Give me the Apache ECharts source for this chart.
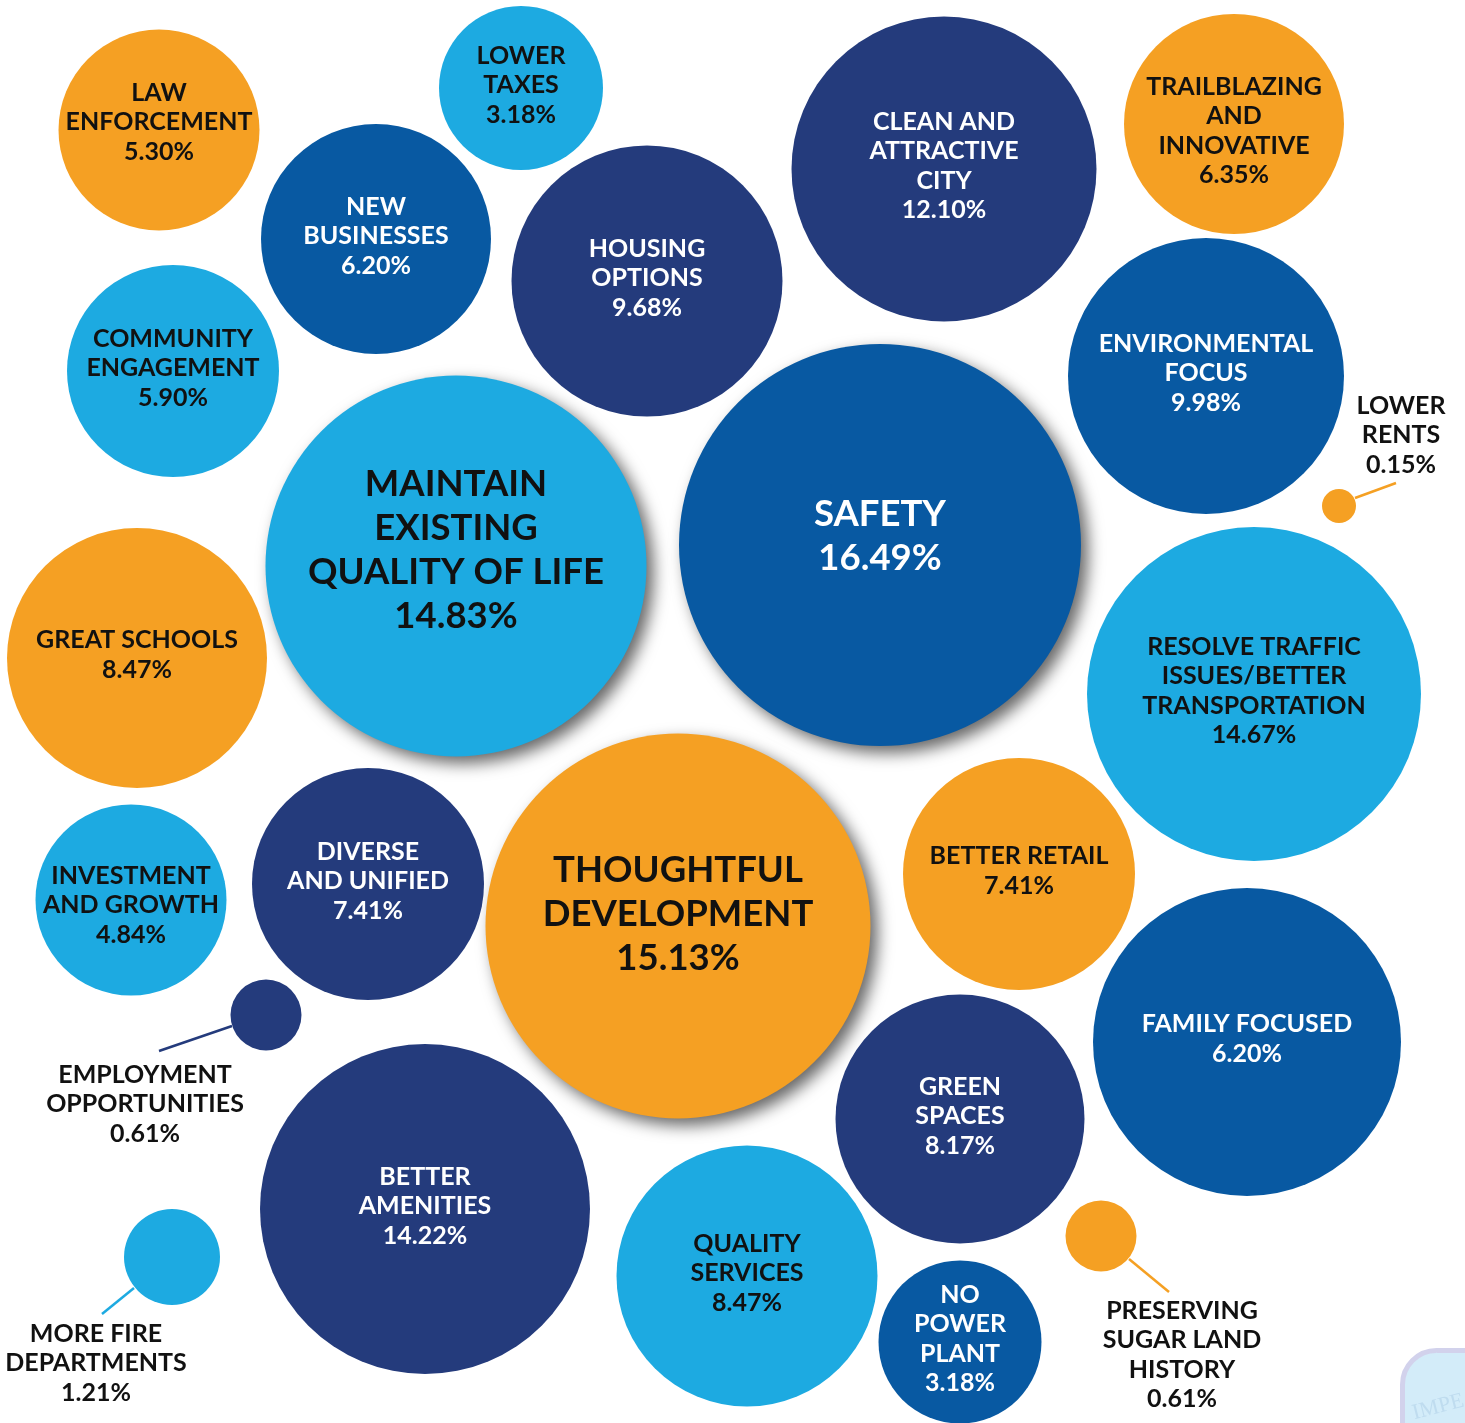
<!DOCTYPE html>
<html>
<head>
<meta charset="utf-8">
<title>Priorities</title>
<script src="https://cdn.jsdelivr.net/npm/echarts@6.0.0/dist/echarts.min.js"></script>
<style>
  html, body { margin: 0; padding: 0; background: #fff; }
  #chart { width: 1465px; height: 1423px; }
</style>
</head>
<body>
<div id="chart"></div>
<script>
// topics, in drawing order (the three shadowed ones first)
var topics = [
  'MAINTAIN\nEXISTING\nQUALITY OF LIFE', 'SAFETY', 'THOUGHTFUL\nDEVELOPMENT',
  'LAW\nENFORCEMENT', 'LOWER\nTAXES', 'NEW\nBUSINESSES', 'COMMUNITY\nENGAGEMENT',
  'HOUSING\nOPTIONS', 'CLEAN AND\nATTRACTIVE\nCITY', 'TRAILBLAZING\nAND\nINNOVATIVE',
  'ENVIRONMENTAL\nFOCUS', 'LOWER\nRENTS', 'GREAT SCHOOLS',
  'RESOLVE TRAFFIC\nISSUES/BETTER\nTRANSPORTATION', 'INVESTMENT\nAND GROWTH',
  'DIVERSE\nAND UNIFIED', 'BETTER RETAIL', 'EMPLOYMENT\nOPPORTUNITIES', 'FAMILY FOCUSED',
  'GREEN\nSPACES', 'BETTER\nAMENITIES', 'QUALITY\nSERVICES', 'NO\nPOWER\nPLANT',
  'MORE FIRE\nDEPARTMENTS', 'PRESERVING\nSUGAR LAND\nHISTORY'
];
var shares = [14.83, 16.49, 15.13, 5.30, 3.18, 6.20, 5.90, 9.68, 12.10, 6.35, 9.98, 0.15, 8.47,
  14.67, 4.84, 7.41, 7.41, 0.61, 6.20, 8.17, 14.22, 8.47, 3.18, 1.21, 0.61];
// bubble centres and diameters as laid out in the picture
var centerX = [456, 880, 678, 159, 521, 376, 173, 647, 944, 1234, 1206, 1339, 137, 1254, 131,
  368, 1019, 266, 1247, 960, 425, 747, 960, 172, 1101];
var centerY = [566, 545, 926, 130, 88, 239, 371, 281, 169, 124, 376, 506, 658, 694, 900,
  884, 874, 1015, 1042, 1119, 1209, 1276, 1342, 1257, 1236];
var diameter = [381, 402, 385, 201, 164, 230, 212, 271, 305, 220, 276, 34, 260, 334, 191,
  232, 232, 71, 308, 249, 330, 261, 163, 96, 71];
var colorGroup = ['sky', 'blue', 'orange', 'orange', 'sky', 'blue', 'sky', 'navy', 'navy', 'orange',
  'blue', 'orange', 'orange', 'sky', 'sky', 'navy', 'orange', 'navy', 'blue', 'navy', 'navy',
  'sky', 'blue', 'sky', 'orange'];

var palette = { orange: '#F5A023', sky: '#1DAAE1', blue: '#0859A2', navy: '#243B7C' };
var textColor = { orange: '#111111', sky: '#111111', blue: '#ffffff', navy: '#ffffff' };

var featured = ['MAINTAIN\nEXISTING\nQUALITY OF LIFE', 'SAFETY', 'THOUGHTFUL\nDEVELOPMENT'];
// label nudges [dx, dy] relative to the bubble centre
var labelShift = {
  'MAINTAIN\nEXISTING\nQUALITY OF LIFE': [0, -16],
  'SAFETY': [0, -9],
  'THOUGHTFUL\nDEVELOPMENT': [0, -12],
  'LAW\nENFORCEMENT': [0, -8],
  'TRAILBLAZING\nAND\nINNOVATIVE': [0, 7],
  'INVESTMENT\nAND GROWTH': [0, 5],
  'LOWER\nRENTS': [62, -71],
  'EMPLOYMENT\nOPPORTUNITIES': [-121, 89],
  'MORE FIRE\nDEPARTMENTS': [-76, 106],
  'PRESERVING\nSUGAR LAND\nHISTORY': [81, 119]
};
var outside = ['LOWER\nRENTS', 'EMPLOYMENT\nOPPORTUNITIES', 'MORE FIRE\nDEPARTMENTS', 'PRESERVING\nSUGAR LAND\nHISTORY'];

// leader lines for the small bubbles
var leaderFrom = [[1355, 498], [232, 1026], [134, 1288], [1129, 1259]];
var leaderTo = [[1396, 483], [159, 1051], [102, 1314], [1169, 1292]];
var leaderColor = ['orange', 'navy', 'sky', 'orange'];

function run() {
  var chart = echarts.init(document.getElementById('chart'));

  var points = topics.map(function (name, i) {
    var big = featured.indexOf(name) >= 0;
    var out = outside.indexOf(name) >= 0;
    var g = colorGroup[i];
    var item = {
      name: name,
      value: [centerX[i], centerY[i], shares[i]],
      symbolSize: diameter[i],
      itemStyle: { color: palette[g], opacity: 1 },
      label: {
        color: out ? '#111111' : textColor[g],
        fontSize: big ? 36.5 : 25,
        lineHeight: big ? 44 : 29.5,
        offset: labelShift[name] || [0, -3]
      }
    };
    if (big) {
      item.itemStyle.shadowBlur = 16;
      item.itemStyle.shadowColor = 'rgba(0,0,0,0.6)';
      item.itemStyle.shadowOffsetX = 7;
      item.itemStyle.shadowOffsetY = 7;
    }
    return item;
  });

  var leaders = leaderFrom.map(function (p, i) {
    return { coords: [p, leaderTo[i]], lineStyle: { color: palette[leaderColor[i]] } };
  });

  var option = {
    animation: false,
    backgroundColor: '#ffffff',
    grid: { left: 0, right: 0, top: 0, bottom: 0 },
    xAxis: { type: 'value', min: 0, max: 1465, show: false },
    yAxis: { type: 'value', min: 0, max: 1423, inverse: true, show: false },
    series: [
      {
        type: 'lines',
        coordinateSystem: 'cartesian2d',
        silent: true,
        lineStyle: { width: 2.5, opacity: 1 },
        data: leaders
      },
      {
        type: 'scatter',
        symbol: 'circle',
        data: points,
        itemStyle: { opacity: 1 },
        label: {
          show: true,
          position: 'inside',
          align: 'center',
          verticalAlign: 'middle',
          fontFamily: 'Lato',
          fontWeight: 'bold',
          formatter: function (p) {
            return p.name + '\n' + p.value[2].toFixed(2) + '%';
          }
        },
        emphasis: { disabled: true }
      }
    ],
    graphic: [
      {
        // faint seal peeking in at the corner
        type: 'rect',
        left: 1400,
        top: 1348,
        shape: { width: 90, height: 100, r: [34, 8, 0, 0] },
        style: { fill: '#D3ECF9', stroke: '#D2D2EC', lineWidth: 5 },
        silent: true
      },
      {
        type: 'text',
        left: 1410,
        top: 1390,
        rotation: 0.25,
        style: { text: 'IMPE', fill: '#BFDCEF', font: '22px "Liberation Serif"' },
        silent: true
      }
    ]
  };

  chart.setOption(option);
}

if (document.readyState !== 'loading') {
  run();
} else {
  document.addEventListener('DOMContentLoaded', run);
}
</script>
</body>
</html>
